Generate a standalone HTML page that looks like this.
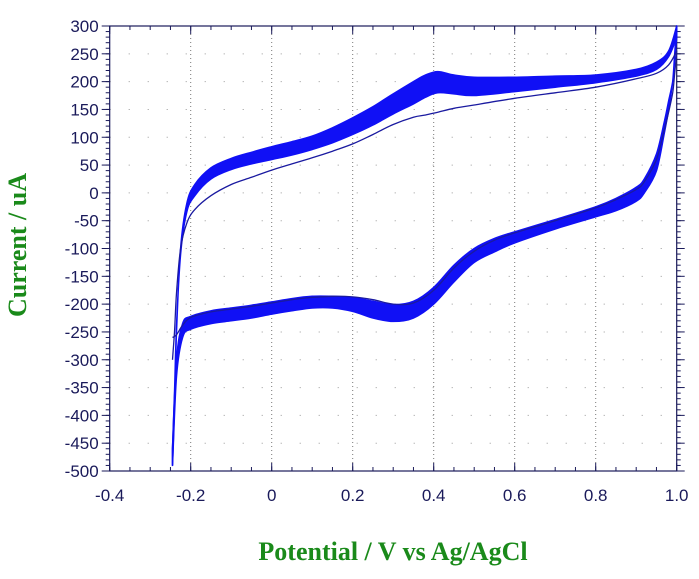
<!DOCTYPE html>
<html><head><meta charset="utf-8"><style>
body{margin:0;background:#fff;width:699px;height:574px;overflow:hidden}
text{font-family:"Liberation Sans",sans-serif}
</style></head><body>
<svg id="chart" width="699" height="574" xmlns="http://www.w3.org/2000/svg">
<g id="grid"></g>
<g id="axes"></g>
<g id="series"></g>
<text transform="translate(26,245) rotate(-90)" text-anchor="middle" style="font-family:'Liberation Serif',serif" font-weight="bold" font-size="26" fill="#1a8a1a">Current / uA</text>
<text x="393" y="560" text-anchor="middle" style="font-family:'Liberation Serif',serif" font-weight="bold" font-size="26" fill="#1a8a1a">Potential / V vs Ag/AgCl</text>
</svg>
<script>
const xTicks=[-0.4,-0.2,0,0.2,0.4,0.6,0.8,1.0];
const xTickLabels=["-0.4","-0.2","0","0.2","0.4","0.6","0.8","1.0"];
const yTicks=[300,250,200,150,100,50,0,-50,-100,-150,-200,-250,-300,-350,-400,-450,-500];
const fwdE=[-0.245,-0.24,-0.235,-0.225,-0.21,-0.19,-0.15,-0.1,-0.05,0,0.05,0.1,0.15,0.2,0.25,0.3,0.35,0.38,0.41,0.45,0.5,0.6,0.7,0.8,0.9,0.95,0.98,1.0];
const revE=[1.0,0.995,0.99,0.98,0.97,0.95,0.92,0.9,0.85,0.8,0.7,0.6,0.55,0.5,0.45,0.4,0.35,0.3,0.25,0.2,0.15,0.1,0.05,0,-0.05,-0.1,-0.15,-0.2,-0.22,-0.235,-0.245];
const fwdOuter=[-490,-380,-250,-100,-20,15,45,62,73,83,92,102,117,135,155,178,200,212,218,212,208,208,210,212,222,235,255,300];
const fwdBand=[-460,-360,-240,-110,-35,-5,25,42,52,60,68,78,90,105,122,142,160,172,180,178,175,182,190,198,210,222,245,280];
const fwdFirst=[-300,-250,-180,-100,-55,-30,-5,15,28,41,52,63,75,88,105,123,136,140,145,152,158,170,180,190,205,215,230,255];
const revOuter=[300,250,200,150,110,40,0,-15,-32,-43,-65,-90,-106,-125,-160,-200,-225,-231,-225,-213,-207,-207,-212,-218,-225,-230,-235,-245,-260,-330,-490];
const revBand=[280,240,200,165,130,70,25,10,-10,-25,-48,-70,-82,-100,-130,-170,-195,-201,-195,-188,-186,-186,-190,-196,-202,-207,-212,-222,-235,-300,-460];
const revFirst=[255,215,180,145,115,60,20,6,-12,-27,-50,-72,-85,-105,-135,-175,-198,-200,-192,-187,-186,-188,-192,-198,-204,-209,-214,-224,-238,-255,-260];

const X0=109.7,X1=676.7,Y0=26,Y1=471;
const xs=v=>X0+(v+0.4)/1.4*(X1-X0);
const ys=v=>Y0+(300-v)/800*(Y1-Y0);
const NS="http://www.w3.org/2000/svg";
function mk(t,p,a){const e=document.createElementNS(NS,t);for(const k in a)e.setAttribute(k,a[k]);p.appendChild(e);return e;}
const grid=document.getElementById('grid'),axes=document.getElementById('axes'),series=document.getElementById('series');
xTicks.forEach((v,i)=>{
  if(i>0&&i<xTicks.length-1){const l=mk('line',grid,{x1:xs(v),x2:xs(v),y1:Y0,y2:Y1,stroke:'#777','stroke-width':1,'stroke-dasharray':'1 3'});
  
  }
  const t=mk('text',axes,{x:xs(v),y:Y1+30,'text-anchor':'middle','font-size':17,fill:'#1a1a5a'});
  t.textContent=xTickLabels[i];
  
  
  mk('line',axes,{x1:xs(v),x2:xs(v),y1:Y1,y2:Y1-8,stroke:'#1a1a5a'});
  mk('line',axes,{x1:xs(v),x2:xs(v),y1:Y0,y2:Y0+8,stroke:'#1a1a5a'});
});
for(let v=-0.4;v<=1.001;v+=0.05){mk('line',axes,{x1:xs(v),x2:xs(v),y1:Y1,y2:Y1-4,stroke:'#1a1a5a'});mk('line',axes,{x1:xs(v),x2:xs(v),y1:Y0,y2:Y0+4,stroke:'#1a1a5a'});}
yTicks.forEach(v=>{
  if(v<300&&v>-500){const l=mk('line',grid,{x1:X0,x2:X1,y1:ys(v),y2:ys(v),stroke:'#999','stroke-width':1,'stroke-dasharray':'1 18'});
  
  }
  const t=mk('text',axes,{x:X0-11,y:ys(v)+6,'text-anchor':'end','font-size':17,fill:'#1a1a5a'});
  t.textContent=String(v);
  
  
  mk('line',axes,{x1:X0,x2:X0-8,y1:ys(v),y2:ys(v),stroke:'#1a1a5a'});
  mk('line',axes,{x1:X1,x2:X1+8,y1:ys(v),y2:ys(v),stroke:'#1a1a5a'});
});
for(let v=-500;v<=300;v+=10){mk('line',axes,{x1:X0,x2:X0-4,y1:ys(v),y2:ys(v),stroke:'#1a1a5a'});mk('line',axes,{x1:X1,x2:X1+4,y1:ys(v),y2:ys(v),stroke:'#1a1a5a'});}
const frame=mk('rect',axes,{x:X0,y:Y0,width:X1-X0,height:Y1-Y0,fill:'none',stroke:'#1a1a5a','stroke-width':1.2});



function pts(E,I){return E.map((e,i)=>[xs(e),ys(I[i])]);}
function smooth(p,start){let d=start?('M'+p[0][0].toFixed(1)+','+p[0][1].toFixed(1)):('L'+p[0][0].toFixed(1)+','+p[0][1].toFixed(1));
  for(let i=0;i<p.length-1;i++){const p0=p[Math.max(0,i-1)],p1=p[i],p2=p[i+1],p3=p[Math.min(p.length-1,i+2)];
    const c1=[p1[0]+(p2[0]-p0[0])/6,p1[1]+(p2[1]-p0[1])/6],c2=[p2[0]-(p3[0]-p1[0])/6,p2[1]-(p3[1]-p1[1])/6];
    d+='C'+c1[0].toFixed(1)+','+c1[1].toFixed(1)+' '+c2[0].toFixed(1)+','+c2[1].toFixed(1)+' '+p2[0].toFixed(1)+','+p2[1].toFixed(1);}
  return d;}
function rev(a){return a.slice().reverse();}
const BLUE='#1010f5';
const fb=mk('path',series,{d:smooth(pts(fwdE,fwdOuter),true)+smooth(rev(pts(fwdE,fwdBand)),false)+'Z',fill:BLUE,stroke:BLUE,'stroke-width':1.5,'stroke-linejoin':'round'});


const rb=mk('path',series,{d:smooth(pts(revE,revOuter),true)+smooth(rev(pts(revE,revBand)),false)+'Z',fill:BLUE,stroke:BLUE,'stroke-width':1.5,'stroke-linejoin':'round'});


const p1=mk('path',series,{d:smooth(pts(fwdE,fwdFirst),true)+smooth(pts(revE,revFirst),false),fill:'none',stroke:'#1a1aa0','stroke-width':1.3,'stroke-linejoin':'round'});


</script>
</body></html>
